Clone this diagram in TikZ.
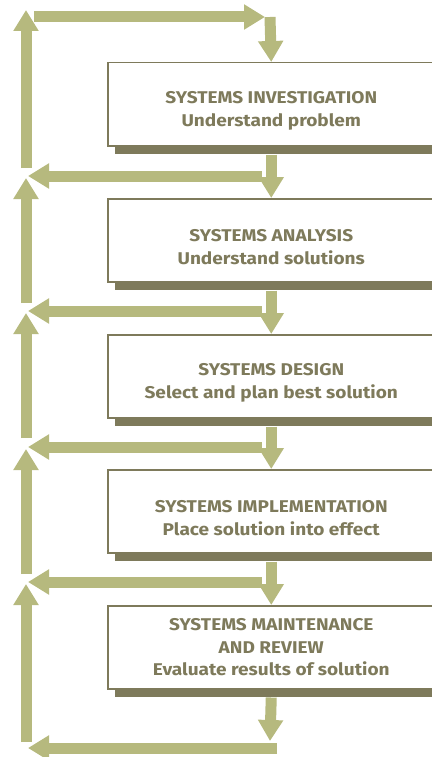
\documentclass[tikz,border=0pt]{standalone}
\usepackage{fontspec}
\setmainfont{Fira Sans}[FakeStretch=1.12]
\usetikzlibrary{arrows.meta,shadows}
\definecolor{boxgray}{HTML}{7E7A5B}
\definecolor{flowgreen}{HTML}{B6B97E}

\begin{document}
\begin{tikzpicture}[x=1pt, y=-1pt,
  stage/.style={draw=boxgray, line width=1.5pt, fill=white, anchor=north west,
    minimum width=327pt, minimum height=83pt, align=center, text=boxgray,
    font=\fontsize{17}{22.5}\selectfont\bfseries,
    drop shadow={shadow xshift=7pt, shadow yshift=-8pt, fill=boxgray, opacity=1}},
  low/.style={text height=48pt},
  flow/.style={draw=flowgreen, line width=11pt, -{Triangle[width=24pt,length=21pt]}}]
  \useasboundingbox (0,0) rectangle (431,757);

  % the five stages
  \node[stage, low] (inv) at (107,62) {SYSTEMS INVESTIGATION\\Understand problem};
  \node[stage, low] (ana) at (107,198) {SYSTEMS ANALYSIS\\Understand solutions};
  \node[stage, low] (des) at (107,334) {SYSTEMS DESIGN\\Select and plan best solution};
  \node[stage, low] (imp) at (107,469) {SYSTEMS IMPLEMENTATION\\Place solution into effect};
  \node[stage] (mai) at (107,605) {SYSTEMS MAINTENANCE\\AND REVIEW\\Evaluate results of solution};

  % corners of the loops
  \coordinate (topleft) at (34,17);
  \coordinate (topright) at (270,17);
  \coordinate (bottom) at (270,741);
  \foreach \y/\r [count=\i] in {176/262, 311/262, 447/262, 582/262, 748/277} {
    \coordinate (back\i) at (\r,\y);
    \coordinate (left\i) at (28,\y);
  }
  \foreach \f/\t [count=\i] in {168/10, 303/178, 438/313, 574/449, 742/584} {
    \coordinate (foot\i) at (26,\f);
    \coordinate (head\i) at (26,\t);
  }

  % forward flow
  \draw[flow] (topleft) -- (265,17);
  \draw[flow] (topright) -- (inv.north);
  \draw[flow] ([yshift=-8pt]inv.south) -- (ana.north);
  \draw[flow] ([yshift=-8pt]ana.south) -- (des.north);
  \draw[flow] ([yshift=-8pt]des.south) -- (imp.north);
  \draw[flow] ([yshift=-8pt]imp.south) -- (mai.north);
  \draw[flow] ([yshift=-8pt]mai.south) -- (bottom);

  % feedback
  \foreach \i in {1,...,5} {
    \draw[flow] (back\i) -- (left\i);
    \draw[flow] (foot\i) -- (head\i);
  }
\end{tikzpicture}
\end{document}
